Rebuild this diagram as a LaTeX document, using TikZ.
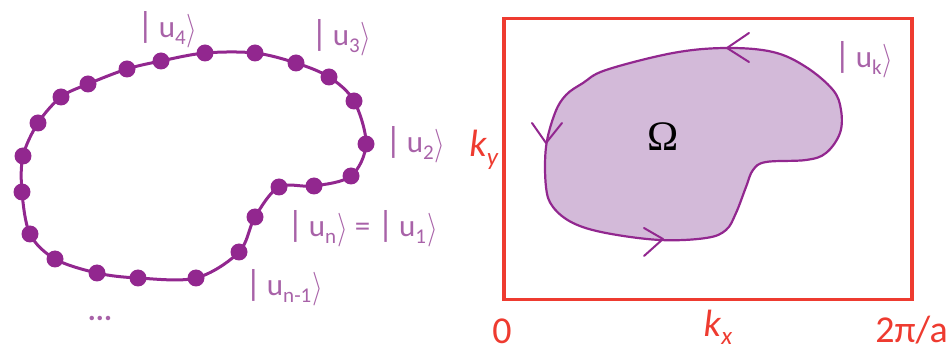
\documentclass[tikz,border=0pt]{standalone}
\usepackage{fontspec}
\usepackage{graphicx}
\setmainfont{Carlito}
\newfontfamily\omfont{Liberation Serif}
\usetikzlibrary{arrows.meta}
\definecolor{curvepurple}{HTML}{92278F}
\definecolor{labpurple}{HTML}{A862A8}
\definecolor{blobfill}{HTML}{D3BAD9}
\definecolor{boxred}{HTML}{EE3B30}
\newcommand{\mysub}[1]{\raisebox{-7pt}{\fontsize{21}{21}\selectfont #1}}
\newcommand{\myrang}{\raisebox{-2pt}{\scalebox{1.1}[1.35]{\fontsize{30}{30}\selectfont$\rangle$}}}
\newcommand{\myket}[1]{{\fontsize{36}{36}\selectfont\textbar}\,u\mysub{#1}\hspace{1pt}\myrang}
\tikzset{
  dotnode/.style={circle,fill=curvepurple,inner sep=0pt,minimum size=17pt},
  ketlab/.style={text=labpurple,font=\fontsize{31}{31}\selectfont,inner sep=0pt,anchor=west},
  redlab/.style={text=boxred,font=\fontsize{38}{38}\selectfont,inner sep=0pt},
  vtip/.style={draw=curvepurple,line width=2pt,line cap=round,line join=round}
}
\begin{document}
\begin{tikzpicture}[x=1pt,y=-1pt]
\useasboundingbox (0,0) rectangle (946,355);
% left loop
\draw[curvepurple,line width=3pt] plot[smooth cycle,tension=0.55] coordinates {
(161,61)(205,53)(255,53)(296,63)(329,77)(354,101)(366,144)(351,176)(314,186)(279,187)(255,217)(239,252)(196,278)(138,278)(97,273)(55,259)(30,234)(22,192)(23,156)(38,123)(61,97)(88,84)(127,69)};
\foreach \p [count=\i] in {(161,61),(205,53),(255,53),(296,63),(329,77),(354,101),(366,144),(351,176),(314,186),(279,187),(255,217),(239,252),(196,278),(138,278),(97,273),(55,259),(30,234),(22,192),(23,156),(38,123),(61,97),(88,84),(127,69)}
  \node[dotnode] (d\i) at \p {};
\node[ketlab] (l4) at (137,30) {\myket{4}};
\node[ketlab] (l3) at (311,38) {\myket{3}};
\node[ketlab] (l2) at (385,145) {\myket{2}};
\node[ketlab] (ln) at (287,229) {\myket{n} = \myket{1}};
\node[ketlab] (lnm) at (245,288) {\myket{n-1}};
\node[text=labpurple,font=\fontsize{30}{30}\selectfont\bfseries,inner sep=0pt] (dots) at (100,318) {...};
% right panel
\node[draw=boxred,line width=3.5pt,minimum width=408pt,minimum height=281pt,inner sep=0pt,anchor=north west] (bz) at (502,17) {};
\filldraw[fill=blobfill,draw=curvepurple,line width=2.2pt] plot[smooth cycle,tension=0.6] coordinates {
(606,70)(673,53)(726,48)(773,52)(806,67)(833,90)(841,110)(840,133)(826,153)(806,160)(766,162)(753,170)(746,187)(736,213)(726,230)(706,238)(660,240)(606,233)(573,223)(553,207)(546,187)(546,147)(555,113)(566,95)(583,83)};
\draw[vtip] (749,33) -- (727,48) -- (749,62);
\draw[vtip] (532,123) -- (546,143) -- (562,123);
\draw[vtip] (644,228) -- (663,239) -- (644,256);
\node[inner sep=0pt,font=\omfont\fontsize{42}{42}\selectfont] (om) at (663,137) {Ω};
\node[ketlab] (uk) at (834,60) {\myket{k}};
\node[redlab] (ky) at (484,150) {\textit{k}\raisebox{-9pt}{\fontsize{25}{25}\selectfont\textit{y}}};
\node[redlab] (zero) at (502,331) {0};
\node[redlab] (kx) at (718,327) {\textit{k}\raisebox{-8pt}{\fontsize{25}{25}\selectfont\textit{x}}};
\node[redlab,anchor=east] (tpa) at (948,330) {2π/a};
\end{tikzpicture}
\end{document}
